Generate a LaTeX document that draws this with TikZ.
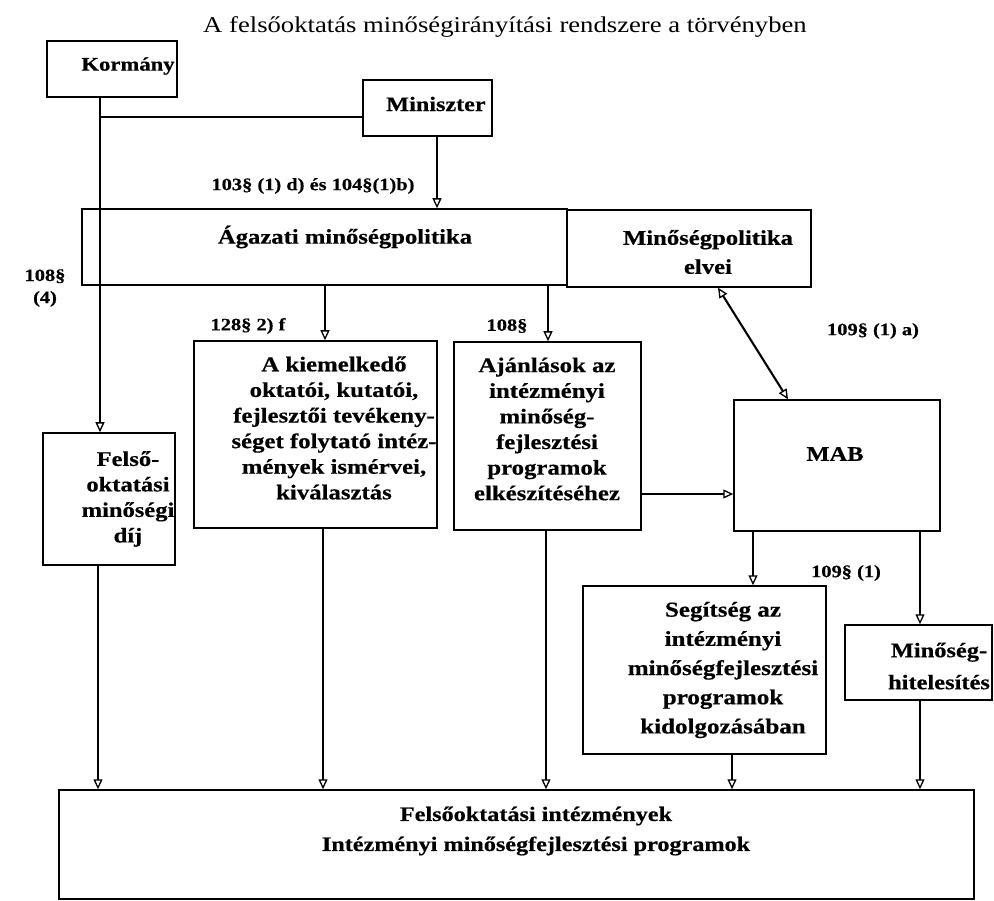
\documentclass[tikz,border=0pt]{standalone}
\usepackage{fontspec}
\setmainfont{Liberation Serif}[FakeStretch=1.18, BoldFeatures={FakeBold=0.5}]
\usetikzlibrary{arrows.meta}
\newcommand{\myfs}[2]{\fontsize{#1}{#2}\selectfont}
\begin{document}
\begin{tikzpicture}[x=1pt,y=-1pt,
  box/.style={draw, line width=1.5pt, inner sep=0pt},
  txt/.style={inner sep=0pt, align=center, font=\bfseries\myfs{21}{25.6}},
  lbl/.style={inner sep=0pt, align=center, font=\bfseries\myfs{17.3}{22}},
  conn/.style={line width=2.1pt},
  arr/.style={line width=2.1pt, -{Triangle[open,length=10pt,width=9pt,line width=1.3pt]}},
  darr/.style={line width=2.1pt, {Triangle[open,length=10pt,width=9pt,line width=1.3pt]}-{Triangle[open,length=10pt,width=9pt,line width=1.3pt]}}
]
\useasboundingbox (0,0) rectangle (994,901);

% title
\node[inner sep=0pt, font=\myfs{22.6}{27}] (title) at (505,27) {A felsőoktatás minőségirányítási rendszere a törvényben};

% boxes
\node[box, minimum width=130pt, minimum height=56pt] (kormany) at (112,69) {};
\node[box, minimum width=129pt, minimum height=56pt] (miniszter) at (427.5,108) {};
\node[box, minimum width=485pt, minimum height=76pt] (agazati) at (324.5,247) {};
\node[box, minimum width=244pt, minimum height=77pt] (elvei) at (689,248.5) {};
\node[box, minimum width=243pt, minimum height=187pt] (kiem) at (315.5,434.5) {};
\node[box, minimum width=187pt, minimum height=188pt] (ajanl) at (547.5,436) {};
\node[box, minimum width=206pt, minimum height=131pt] (mab) at (837,465.5) {};
\node[box, minimum width=132pt, minimum height=132pt] (dij) at (109,499) {};
\node[box, minimum width=243pt, minimum height=168pt] (segits) at (704.5,670) {};
\node[box, minimum width=147pt, minimum height=75pt] (hitel) at (918.5,662.5) {};
\node[box, minimum width=915pt, minimum height=109pt] (bottom) at (516.5,844.5) {};

% box texts
\node[txt, font=\bfseries\myfs{19.2}{24}] (tkormany) at (128,66) {Kormány};
\node[txt, font=\bfseries\myfs{20.5}{24}] (tminiszter) at (436,104) {Miniszter};
\node[txt, font=\bfseries\myfs{20.9}{25}] (tagazati) at (345,237) {Ágazati minőségpolitika};
\node[txt, font=\bfseries\myfs{20.9}{29}] (telvei) at (708,252) {Minőségpolitika\\elvei};
\node[txt] (tkiem) at (334,428) {A kiemelkedő\\oktatói, kutatói,\\fejlesztői tevékeny-\\séget folytató intéz-\\mények ismérvei,\\kiválasztás};
\node[txt] (tajanl) at (547,429) {Ajánlások az\\intézményi\\minőség-\\fejlesztési\\programok\\elkészítéséhez};
\node[txt, font=\bfseries\myfs{20.7}{25}] (tmab) at (835,454) {MAB};
\node[txt, font=\bfseries\myfs{20.8}{25.5}] (tdij) at (128,499) {Felső-\\oktatási\\minőségi\\díj};
\node[txt, font=\bfseries\myfs{21.2}{29.2}] (tsegits) at (723,670) {Segítség az\\intézményi\\minőségfejlesztési\\programok\\kidolgozásában};
\node[txt, font=\bfseries\myfs{20.7}{32}] (thitel) at (939,666) {Minőség-\\hitelesítés};
\node[txt, font=\bfseries\myfs{20.5}{30}] (tbottom) at (536,831) {Felsőoktatási intézmények\\Intézményi minőségfejlesztési programok};

% labels
\node[lbl] (l1) at (313,186) {103§ (1) d) és 104§(1)b)};
\node[lbl] (l2) at (45,288) {108§\\(4)};
\node[lbl] (l3) at (248,326) {128§ 2) f};
\node[lbl] (l4) at (507,326) {108§};
\node[lbl] (l5) at (873,331) {109§ (1) a)};
\node[lbl] (l6) at (846,573) {109§ (1)};

% helper coordinates
\coordinate (xk) at (100,117);
\coordinate (xm) at (437,0);
\coordinate (xa) at (325,0);
\coordinate (xj) at (548,0);
\coordinate (e1) at (718,0);
\coordinate (e2) at (788,0);
\coordinate (y1) at (0,494);
\coordinate (xs) at (753,0);
\coordinate (xh) at (920,0);
\coordinate (b1) at (98,0);
\coordinate (b2) at (323,0);
\coordinate (b3) at (546,0);
\coordinate (b4) at (732,0);

% connectors
\draw[arr] (kormany.south -| xk) -- (dij.north -| xk);
\draw[conn] (xk) -- (xk -| miniszter.west);
\draw[arr] (miniszter.south -| xm) -- (agazati.north -| xm);
\draw[arr] (agazati.south -| xa) -- (kiem.north -| xa);
\draw[arr] (agazati.south -| xj) -- (ajanl.north -| xj);
\draw[darr] (elvei.south -| e1) -- (mab.north -| e2);
\draw[arr] (ajanl.east |- y1) -- (mab.west |- y1);
\draw[arr] (mab.south -| xs) -- (segits.north -| xs);
\draw[arr] (mab.south -| xh) -- (hitel.north -| xh);
\draw[arr] (dij.south -| b1) -- (bottom.north -| b1);
\draw[arr] (kiem.south -| b2) -- (bottom.north -| b2);
\draw[arr] (ajanl.south -| b3) -- (bottom.north -| b3);
\draw[arr] (segits.south -| b4) -- (bottom.north -| b4);
\draw[arr] (hitel.south -| xh) -- (bottom.north -| xh);
\end{tikzpicture}
\end{document}
